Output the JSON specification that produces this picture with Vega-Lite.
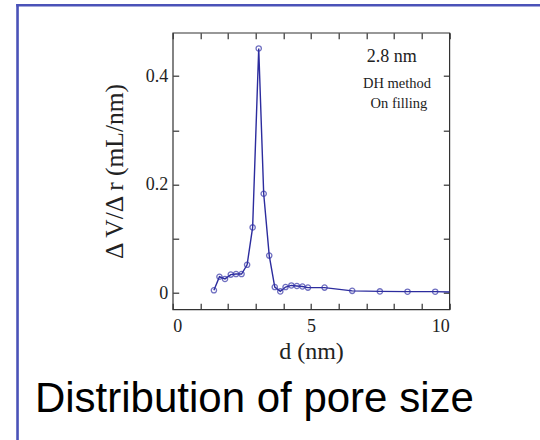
{
  "$schema": "https://vega.github.io/schema/vega-lite/v6.json",
  "autosize": {"type": "none"},
  "width": 276.6,
  "height": 276.6,
  "padding": {"left": 172.7, "top": 32.7, "right": 90.7, "bottom": 130.7},
  "background": "white",
  "config": {
    "view": {"stroke": "#333333", "strokeWidth": 1.2},
    "axis": {
      "domain": false,
      "grid": false,
      "tickColor": "#333333",
      "tickWidth": 1.2,
      "labelFont": "Liberation Serif",
      "labelFontSize": 18,
      "labelColor": "#222222",
      "titleFont": "Liberation Serif",
      "titleFontWeight": "normal",
      "titleColor": "#222222"
    }
  },
  "layer": [
    {
      "data": {
        "values": [
          {"d": 1.49, "v": 0.005},
          {"d": 1.69, "v": 0.030},
          {"d": 1.89, "v": 0.026},
          {"d": 2.10, "v": 0.034},
          {"d": 2.29, "v": 0.035},
          {"d": 2.49, "v": 0.035},
          {"d": 2.69, "v": 0.052},
          {"d": 2.89, "v": 0.121},
          {"d": 3.11, "v": 0.451},
          {"d": 3.29, "v": 0.183},
          {"d": 3.49, "v": 0.069},
          {"d": 3.69, "v": 0.011},
          {"d": 3.89, "v": 0.003},
          {"d": 4.08, "v": 0.011},
          {"d": 4.29, "v": 0.014},
          {"d": 4.49, "v": 0.013},
          {"d": 4.69, "v": 0.012},
          {"d": 4.89, "v": 0.010},
          {"d": 5.49, "v": 0.010},
          {"d": 6.49, "v": 0.004},
          {"d": 7.49, "v": 0.003},
          {"d": 8.49, "v": 0.0025},
          {"d": 9.49, "v": 0.0025},
          {"d": 10.0, "v": 0.002}
        ]
      },
      "layer": [
        {
          "mark": {"type": "line", "color": "#2c2c9e", "strokeWidth": 1.4},
          "encoding": {
            "x": {
              "field": "d", "type": "quantitative",
              "scale": {"domain": [0, 10], "nice": false, "zero": false},
              "axis": {
                "orient": "bottom",
                "values": [0, 1, 2, 3, 4, 5, 6, 7, 8, 9, 10],
                "labelExpr": "datum.value % 5 == 0 ? datum.label : ''",
                "tickSize": -6,
                "labelPadding": 14,
                "title": "d (nm)",
                "titleFontSize": 24,
                "titlePadding": 4
              }
            },
            "y": {
              "field": "v", "type": "quantitative",
              "scale": {"domain": [-0.03, 0.48], "nice": false, "zero": false},
              "axis": {
                "orient": "left",
                "values": [0, 0.1, 0.2, 0.3, 0.4],
                "labelExpr": "datum.value == 0 ? '0' : (round(datum.value * 10) % 2 == 0 ? format(datum.value, '.1f') : '')",
                "tickSize": -6,
                "labelPadding": 11,
                "title": "Δ V/Δ r (mL/nm)",
                "titleFontSize": 25.5,
                "titlePadding": 18
              }
            }
          }
        },
        {
          "transform": [{"filter": "datum.d < 10"}],
          "mark": {"type": "point", "shape": "circle", "filled": false, "color": "#3535a8", "size": 28, "strokeWidth": 1.3},
          "encoding": {
            "x": {
              "field": "d", "type": "quantitative",
              "axis": {
                "orient": "top",
                "values": [0, 1, 2, 3, 4, 5, 6, 7, 8, 9, 10],
                "labels": false,
                "tickSize": -6,
                "title": null
              }
            },
            "y": {
              "field": "v", "type": "quantitative",
              "axis": {
                "orient": "right",
                "values": [0, 0.1, 0.2, 0.3, 0.4],
                "labels": false,
                "tickSize": -6,
                "title": null
              }
            }
          }
        }
      ]
    },
    {
      "data": {"values": [{"label": "2.8 nm"}]},
      "mark": {"type": "text", "font": "Liberation Serif", "fontSize": 18, "align": "center", "baseline": "alphabetic", "fill": "#222222"},
      "encoding": {
        "x": {"datum": 7.92, "type": "quantitative", "axis": null},
        "y": {"datum": 0.4265, "type": "quantitative", "axis": null},
        "text": {"field": "label"}
      }
    },
    {
      "data": {"values": [{"label": "DH method"}]},
      "mark": {"type": "text", "font": "Liberation Serif", "fontSize": 14.5, "align": "center", "baseline": "alphabetic", "fill": "#222222"},
      "encoding": {
        "x": {"datum": 8.11, "type": "quantitative", "axis": null},
        "y": {"datum": 0.3775, "type": "quantitative", "axis": null},
        "text": {"field": "label"}
      }
    },
    {
      "data": {"values": [{"label": "On filling"}]},
      "mark": {"type": "text", "font": "Liberation Serif", "fontSize": 14.5, "align": "center", "baseline": "alphabetic", "fill": "#222222"},
      "encoding": {
        "x": {"datum": 8.18, "type": "quantitative", "axis": null},
        "y": {"datum": 0.3406, "type": "quantitative", "axis": null},
        "text": {"field": "label"}
      }
    },
    {
      "data": {"values": [{"label": "Distribution of pore size"}]},
      "mark": {"type": "text", "font": "Liberation Sans", "fontSize": 42, "align": "left", "baseline": "alphabetic", "fill": "#000000"},
      "encoding": {
        "x": {"datum": -4.98, "type": "quantitative", "axis": null},
        "y": {"datum": -0.2193, "type": "quantitative", "axis": null},
        "text": {"field": "label"}
      }
    },
    {
      "data": {"values": [{"edge": "left"}]},
      "mark": {"type": "rule", "color": "#4a52b8", "strokeWidth": 2.6},
      "encoding": {
        "x": {"datum": -5.61, "type": "quantitative", "axis": null},
        "y": {"datum": 0.5329, "type": "quantitative", "axis": null},
        "y2": {"datum": -0.3}
      }
    },
    {
      "data": {"values": [{"edge": "top"}]},
      "mark": {"type": "rule", "color": "#4a52b8", "strokeWidth": 2.6},
      "encoding": {
        "x": {"datum": -5.657, "type": "quantitative", "axis": null},
        "x2": {"datum": 14},
        "y": {"datum": 0.5305, "type": "quantitative", "axis": null}
      }
    }
  ]
}
